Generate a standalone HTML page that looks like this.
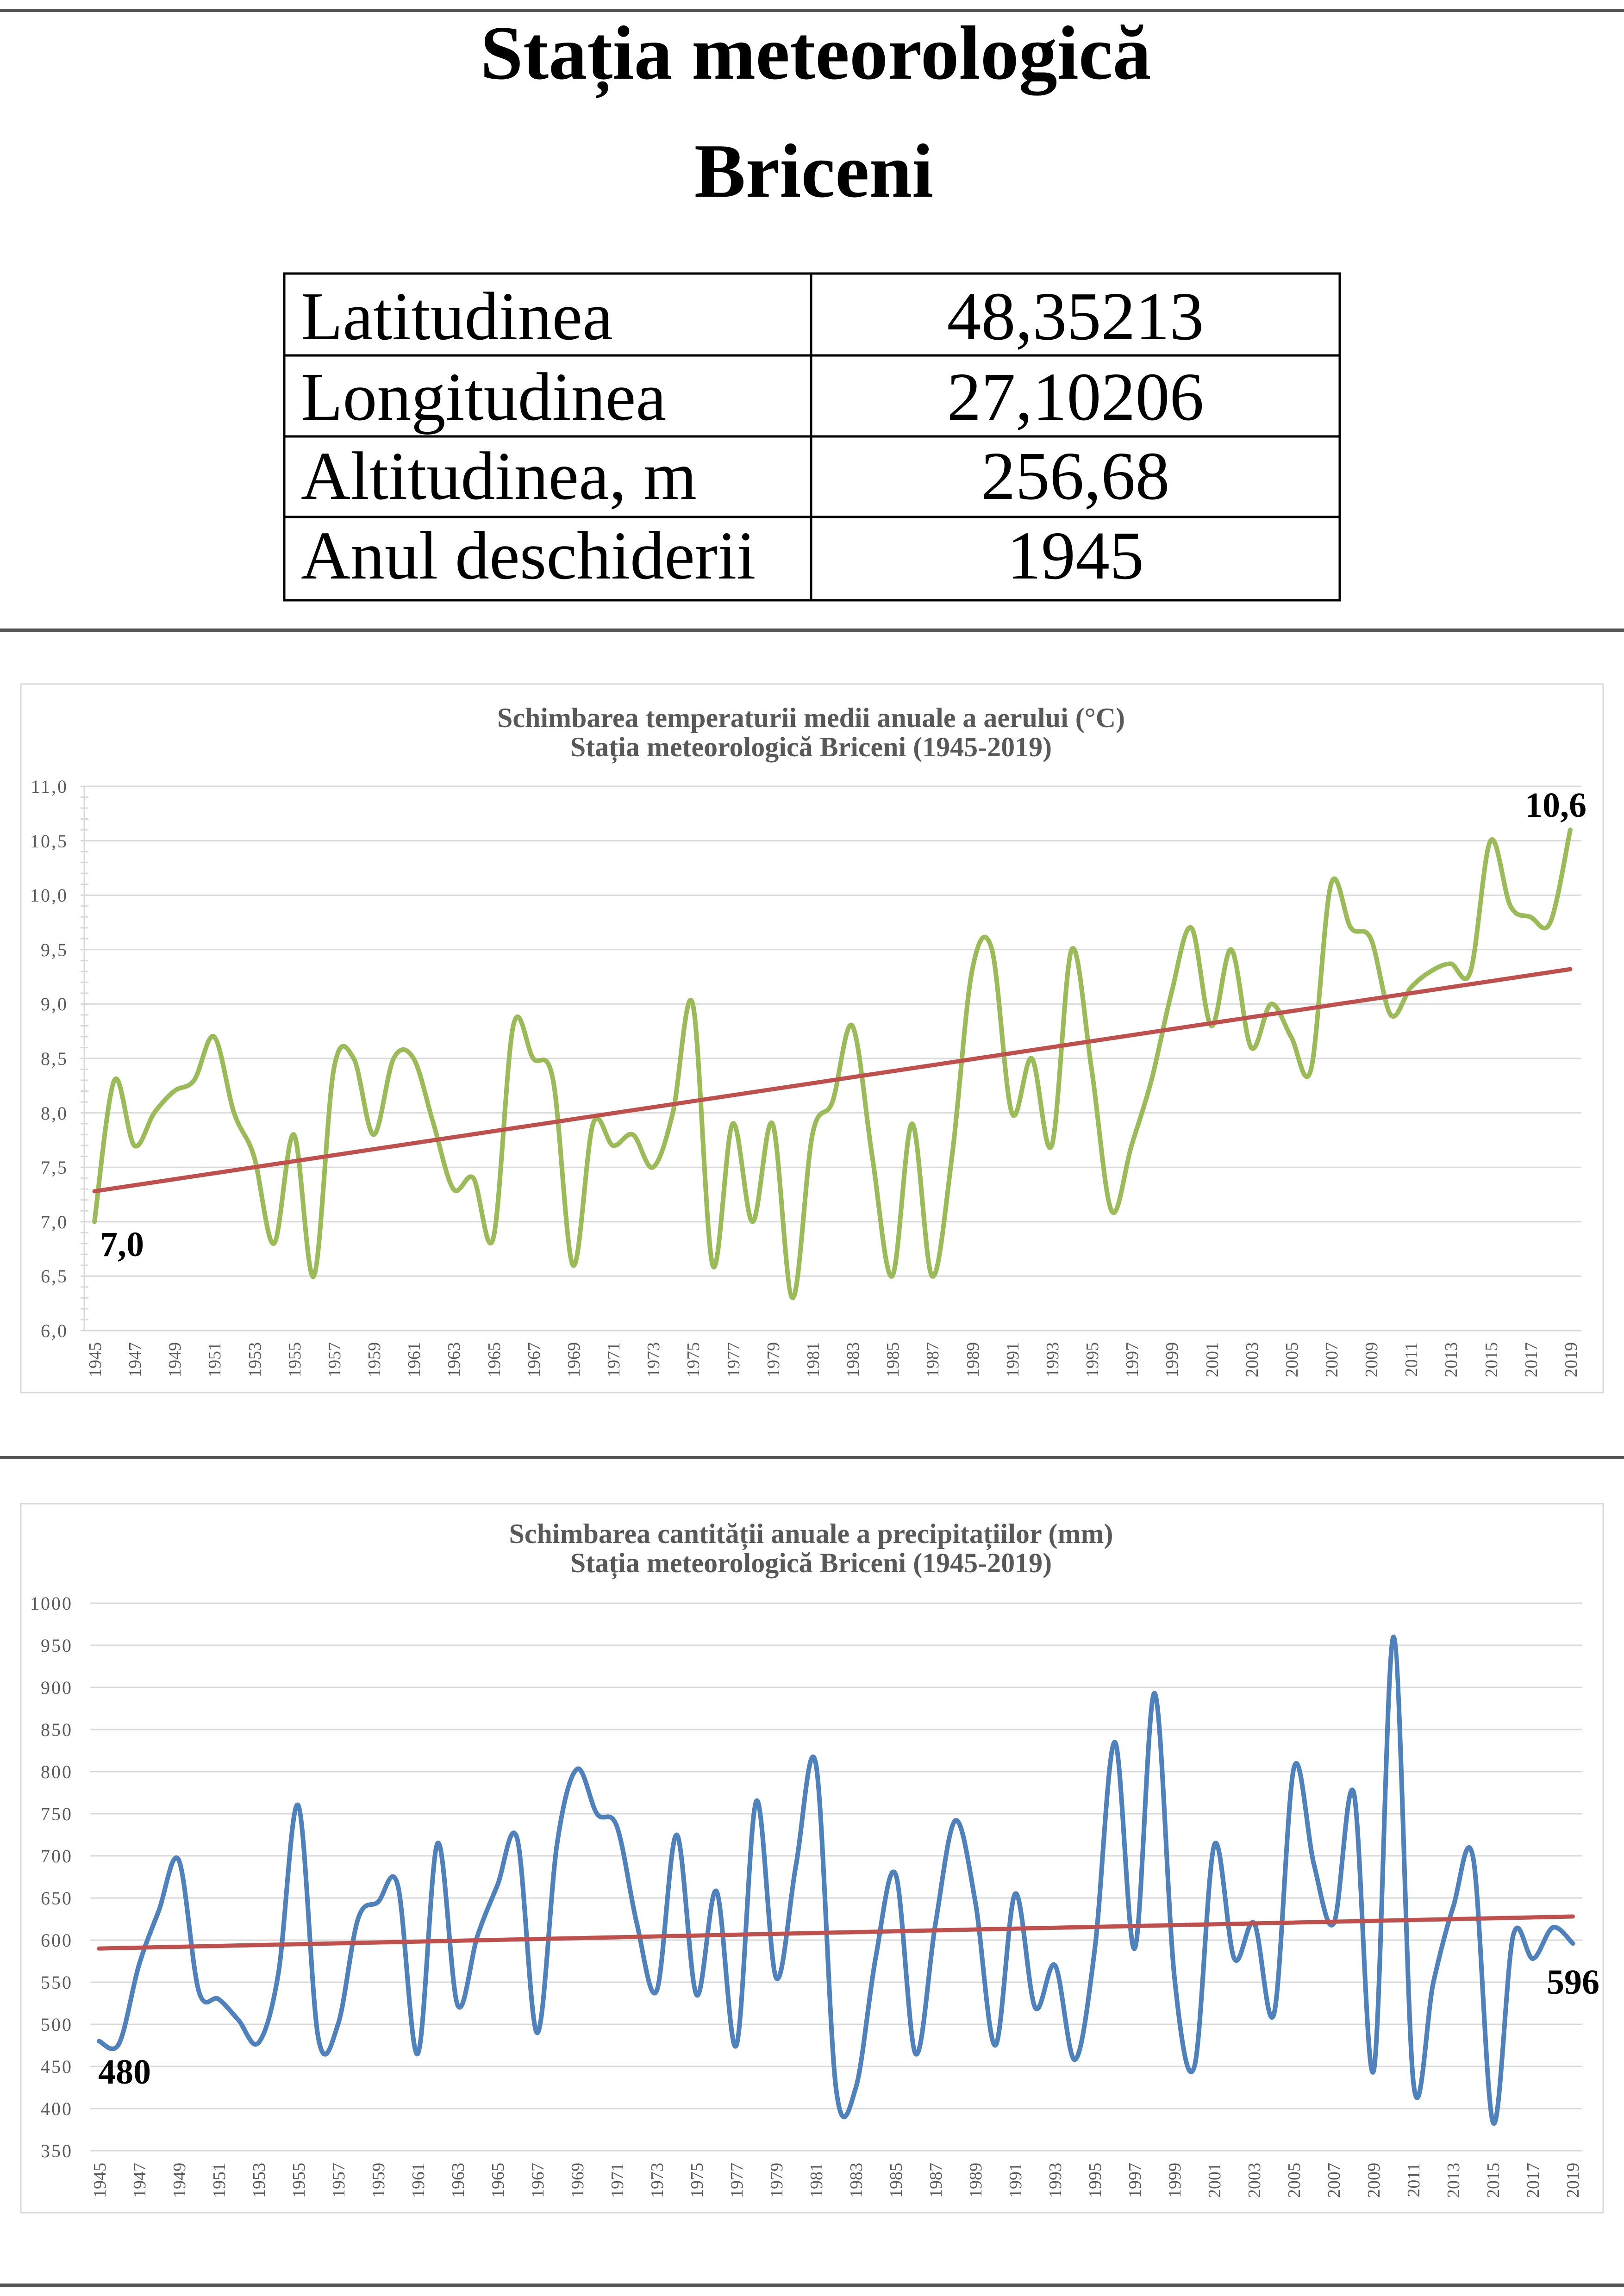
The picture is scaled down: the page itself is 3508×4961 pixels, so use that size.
<!DOCTYPE html>
<html><head><meta charset="utf-8">
<style>
html,body{margin:0;padding:0;background:#fff;}
svg{display:block;}
</style></head>
<body>
<svg id="s" xmlns="http://www.w3.org/2000/svg" width="3508" height="4961" viewBox="0 0 3508 4961">
<rect width="3508" height="4961" fill="#fff"/>
<rect x="0" y="19" width="3508" height="7" fill="#555"/>
<rect x="0" y="1358" width="3508" height="7" fill="#555"/>
<rect x="0" y="3146" width="3508" height="7" fill="#555"/>
<rect x="0" y="4934" width="3508" height="7" fill="#555"/>

<g font-family="Liberation Serif, serif" font-weight="bold" font-size="166" text-anchor="middle" fill="#000">
<text x="1762" y="170">Stația meteorologică</text>
<text x="1758" y="425">Briceni</text>
</g>

<g fill="none" stroke="#000" stroke-width="5">
<rect x="614" y="591" width="2280" height="706"/>
<line x1="1752" y1="591" x2="1752" y2="1297"/>
<line x1="614" y1="768" x2="2894" y2="768"/>
<line x1="614" y1="943" x2="2894" y2="943"/>
<line x1="614" y1="1117" x2="2894" y2="1117"/>
</g>
<g font-family="Liberation Serif, serif" font-size="148" fill="#000">
<text x="650" y="733">Latitudinea</text>
<text x="650" y="907">Longitudinea</text>
<text x="650" y="1078">Altitudinea, m</text>
<text x="650" y="1250">Anul deschiderii</text>
<g text-anchor="middle">
<text x="2323" y="733">48,35213</text>
<text x="2323" y="907">27,10206</text>
<text x="2323" y="1078">256,68</text>
<text x="2323" y="1250">1945</text>
</g>
</g>

<rect x="45" y="1478" width="3418" height="1531" fill="#fff" stroke="#d9d9d9" stroke-width="3"/>
<g font-family="Liberation Serif, serif" font-weight="bold" font-size="60" fill="#595959" text-anchor="middle">
<text x="1752" y="1571">Schimbarea temperaturii medii anuale a aerului (°C)</text>
<text x="1752" y="1634">Stația meteorologică Briceni (1945-2019)</text>
</g>
<g id="g1grid" stroke="#d9d9d9" stroke-width="3"></g>
<g font-family="Liberation Serif, serif" font-size="40" fill="#595959" text-anchor="end" letter-spacing="3">
<text x="147" y="1713">11,0</text>
<text x="147" y="1831">10,5</text>
<text x="147" y="1948">10,0</text>
<text x="147" y="2066">9,5</text>
<text x="147" y="2183">9,0</text>
<text x="147" y="2301">8,5</text>
<text x="147" y="2419">8,0</text>
<text x="147" y="2536">7,5</text>
<text x="147" y="2654">7,0</text>
<text x="147" y="2771">6,5</text>
<text x="147" y="2889">6,0</text>
</g>
<g font-family="Liberation Serif, serif" font-size="38" fill="#595959" text-anchor="end">
<text transform="translate(218,2900) rotate(-90)">1945</text>
<text transform="translate(304,2900) rotate(-90)">1947</text>
<text transform="translate(390,2900) rotate(-90)">1949</text>
<text transform="translate(476,2900) rotate(-90)">1951</text>
<text transform="translate(563,2900) rotate(-90)">1953</text>
<text transform="translate(649,2900) rotate(-90)">1955</text>
<text transform="translate(735,2900) rotate(-90)">1957</text>
<text transform="translate(821,2900) rotate(-90)">1959</text>
<text transform="translate(907,2900) rotate(-90)">1961</text>
<text transform="translate(993,2900) rotate(-90)">1963</text>
<text transform="translate(1080,2900) rotate(-90)">1965</text>
<text transform="translate(1166,2900) rotate(-90)">1967</text>
<text transform="translate(1252,2900) rotate(-90)">1969</text>
<text transform="translate(1338,2900) rotate(-90)">1971</text>
<text transform="translate(1424,2900) rotate(-90)">1973</text>
<text transform="translate(1510,2900) rotate(-90)">1975</text>
<text transform="translate(1597,2900) rotate(-90)">1977</text>
<text transform="translate(1683,2900) rotate(-90)">1979</text>
<text transform="translate(1769,2900) rotate(-90)">1981</text>
<text transform="translate(1855,2900) rotate(-90)">1983</text>
<text transform="translate(1941,2900) rotate(-90)">1985</text>
<text transform="translate(2027,2900) rotate(-90)">1987</text>
<text transform="translate(2114,2900) rotate(-90)">1989</text>
<text transform="translate(2200,2900) rotate(-90)">1991</text>
<text transform="translate(2286,2900) rotate(-90)">1993</text>
<text transform="translate(2372,2900) rotate(-90)">1995</text>
<text transform="translate(2458,2900) rotate(-90)">1997</text>
<text transform="translate(2544,2900) rotate(-90)">1999</text>
<text transform="translate(2631,2900) rotate(-90)">2001</text>
<text transform="translate(2717,2900) rotate(-90)">2003</text>
<text transform="translate(2803,2900) rotate(-90)">2005</text>
<text transform="translate(2889,2900) rotate(-90)">2007</text>
<text transform="translate(2975,2900) rotate(-90)">2009</text>
<text transform="translate(3061,2900) rotate(-90)">2011</text>
<text transform="translate(3147,2900) rotate(-90)">2013</text>
<text transform="translate(3234,2900) rotate(-90)">2015</text>
<text transform="translate(3320,2900) rotate(-90)">2017</text>
<text transform="translate(3406,2900) rotate(-90)">2019</text>
</g>
<path id="t1" fill="none" stroke="#9bbb59" stroke-width="10" stroke-linecap="round" stroke-linejoin="round"/>
<line id="tr1" stroke="#c0504d" stroke-width="9" stroke-linecap="round"/>
<g font-family="Liberation Serif, serif" font-weight="bold" font-size="76" fill="#000">
<text x="216" y="2714">7,0</text>
<text x="3294" y="1765">10,6</text>
</g>

<rect x="45" y="3249" width="3418" height="1532" fill="#fff" stroke="#d9d9d9" stroke-width="3"/>
<g font-family="Liberation Serif, serif" font-weight="bold" font-size="60" fill="#595959" text-anchor="middle">
<text x="1752" y="3334">Schimbarea cantității anuale a precipitațiilor (mm)</text>
<text x="1752" y="3397">Stația meteorologică Briceni (1945-2019)</text>
</g>
<g id="g2grid" stroke="#d9d9d9" stroke-width="3"></g>
<g font-family="Liberation Serif, serif" font-size="40" fill="#595959" text-anchor="end" letter-spacing="3">
<text x="157" y="3478">1000</text>
<text x="157" y="3569">950</text>
<text x="157" y="3660">900</text>
<text x="157" y="3751">850</text>
<text x="157" y="3842">800</text>
<text x="157" y="3933">750</text>
<text x="157" y="4024">700</text>
<text x="157" y="4115">650</text>
<text x="157" y="4206">600</text>
<text x="157" y="4297">550</text>
<text x="157" y="4388">500</text>
<text x="157" y="4479">450</text>
<text x="157" y="4570">400</text>
<text x="157" y="4661">350</text>
</g>
<g font-family="Liberation Serif, serif" font-size="38" fill="#595959" text-anchor="end">
<text transform="translate(228,4673) rotate(-90)">1945</text>
<text transform="translate(314,4673) rotate(-90)">1947</text>
<text transform="translate(400,4673) rotate(-90)">1949</text>
<text transform="translate(486,4673) rotate(-90)">1951</text>
<text transform="translate(572,4673) rotate(-90)">1953</text>
<text transform="translate(658,4673) rotate(-90)">1955</text>
<text transform="translate(744,4673) rotate(-90)">1957</text>
<text transform="translate(830,4673) rotate(-90)">1959</text>
<text transform="translate(916,4673) rotate(-90)">1961</text>
<text transform="translate(1002,4673) rotate(-90)">1963</text>
<text transform="translate(1088,4673) rotate(-90)">1965</text>
<text transform="translate(1174,4673) rotate(-90)">1967</text>
<text transform="translate(1260,4673) rotate(-90)">1969</text>
<text transform="translate(1346,4673) rotate(-90)">1971</text>
<text transform="translate(1432,4673) rotate(-90)">1973</text>
<text transform="translate(1518,4673) rotate(-90)">1975</text>
<text transform="translate(1604,4673) rotate(-90)">1977</text>
<text transform="translate(1690,4673) rotate(-90)">1979</text>
<text transform="translate(1776,4673) rotate(-90)">1981</text>
<text transform="translate(1862,4673) rotate(-90)">1983</text>
<text transform="translate(1948,4673) rotate(-90)">1985</text>
<text transform="translate(2034,4673) rotate(-90)">1987</text>
<text transform="translate(2120,4673) rotate(-90)">1989</text>
<text transform="translate(2206,4673) rotate(-90)">1991</text>
<text transform="translate(2292,4673) rotate(-90)">1993</text>
<text transform="translate(2378,4673) rotate(-90)">1995</text>
<text transform="translate(2464,4673) rotate(-90)">1997</text>
<text transform="translate(2550,4673) rotate(-90)">1999</text>
<text transform="translate(2636,4673) rotate(-90)">2001</text>
<text transform="translate(2722,4673) rotate(-90)">2003</text>
<text transform="translate(2808,4673) rotate(-90)">2005</text>
<text transform="translate(2894,4673) rotate(-90)">2007</text>
<text transform="translate(2980,4673) rotate(-90)">2009</text>
<text transform="translate(3066,4673) rotate(-90)">2011</text>
<text transform="translate(3152,4673) rotate(-90)">2013</text>
<text transform="translate(3238,4673) rotate(-90)">2015</text>
<text transform="translate(3324,4673) rotate(-90)">2017</text>
<text transform="translate(3410,4673) rotate(-90)">2019</text>
</g>
<path id="t2" fill="none" stroke="#4f81bd" stroke-width="10" stroke-linecap="round" stroke-linejoin="round"/>
<line id="tr2" stroke="#c0504d" stroke-width="9" stroke-linecap="round"/>
<g font-family="Liberation Serif, serif" font-weight="bold" font-size="76" fill="#000">
<text x="212" y="4502">480</text>
<text x="3341" y="4308">596</text>
</g>
</svg>
<script>
(function(){
var NS="http://www.w3.org/2000/svg";
function ln(g,x1,y1,x2,y2){var l=document.createElementNS(NS,"line");l.setAttribute("x1",x1);l.setAttribute("y1",y1);l.setAttribute("x2",x2);l.setAttribute("y2",y2);g.appendChild(l);}
var g1=document.getElementById("g1grid");
for(var i=0;i<=10;i++){var y=1699+i*117.6;ln(g1,174,y,3416,y);}
ln(g1,182,1699,182,2875);
for(var i=0;i<=50;i++){var y=1699+i*23.52;ln(g1,174,y,191,y);}
var g2=document.getElementById("g2grid");
for(var i=0;i<=13;i++){var y=3464+i*91.0;ln(g2,195,y,3418,y);}
function smooth(pts){var d="M"+pts[0][0].toFixed(1)+","+pts[0][1].toFixed(1);
for(var i=0;i<pts.length-1;i++){var p0=pts[i>0?i-1:i],p1=pts[i],p2=pts[i+1],p3=pts[i+2<pts.length?i+2:i+1];
var c1x=p1[0]+(p2[0]-p0[0])/6,c1y=p1[1]+(p2[1]-p0[1])/6,c2x=p2[0]-(p3[0]-p1[0])/6,c2y=p2[1]-(p3[1]-p1[1])/6;
d+=" C"+c1x.toFixed(1)+","+c1y.toFixed(1)+" "+c2x.toFixed(1)+","+c2y.toFixed(1)+" "+p2[0].toFixed(1)+","+p2[1].toFixed(1);}
return d;}
var T=[7.0,8.3,7.7,8.0,8.2,8.3,8.7,8.0,7.6,6.8,7.8,6.5,8.4,8.5,7.8,8.5,8.5,7.9,7.3,7.4,6.85,8.8,8.5,8.3,6.6,7.9,7.7,7.8,7.5,8.0,9.0,6.6,7.9,7.0,7.9,6.3,7.8,8.1,8.8,7.6,6.5,7.9,6.5,7.6,9.3,9.5,8.0,8.5,7.7,9.5,8.4,7.1,7.7,8.3,9.1,9.7,8.8,9.5,8.6,9.0,8.7,8.4,10.1,9.7,9.6,8.9,9.15,9.3,9.37,9.3,10.5,9.9,9.8,9.75,10.6];
var P=[480,477,570,635,695,540,530,505,478,560,760,485,500,625,645,665,465,715,523,605,665,720,490,715,803,750,735,620,540,725,535,658,475,765,555,690,808,425,425,580,678,465,620,742,645,475,655,520,570,458,590,835,590,893,555,450,713,578,620,513,805,690,620,775,445,960,430,550,640,697,383,605,578,615,596];
function ty(v){return 2875-(v-6)*235.2;}
function py(v){return 4647-(v-350)*1.82;}
var p1=T.map(function(v,i){return [204+43.08*i,ty(v)];});
var p2=P.map(function(v,i){return [214+43.02*i,py(v)];});
document.getElementById("t1").setAttribute("d",smooth(p1));
document.getElementById("t2").setAttribute("d",smooth(p2));
var a=document.getElementById("tr1");a.setAttribute("x1",204);a.setAttribute("y1",ty(7.28));a.setAttribute("x2",204+43.08*74);a.setAttribute("y2",ty(9.32));
var b=document.getElementById("tr2");b.setAttribute("x1",214);b.setAttribute("y1",py(590));b.setAttribute("x2",214+43.02*74);b.setAttribute("y2",py(628));
})();
</script>
</body></html>
